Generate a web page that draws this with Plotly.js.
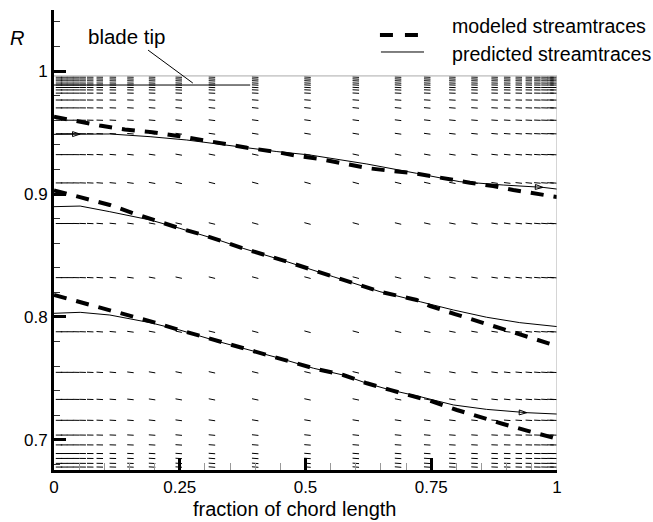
<!DOCTYPE html>
<html>
<head>
<meta charset="utf-8">
<script src="https://cdn.plot.ly/plotly-3.0.1.min.js"></script>
<style>html,body{margin:0;padding:0;background:#fff;}#chart{width:653px;height:522px;}</style>
</head>
<body>
<div id="chart"></div>
<script>
// ---- vector-field grid ----
const fieldX = [0.01, 0.02, 0.032, 0.044, 0.057, 0.072, 0.091, 0.117, 0.152, 0.195, 0.248, 0.314, 0.4, 0.504, 0.6, 0.684, 0.742, 0.792, 0.836, 0.876, 0.901, 0.924, 0.944, 0.961, 0.975, 0.987, 0.993];
const fieldR = [0.995, 0.9935, 0.992, 0.9902, 0.9886, 0.9866, 0.9846, 0.982, 0.9764, 0.970, 0.960, 0.949, 0.932, 0.909, 0.876, 0.832, 0.788, 0.755, 0.733, 0.716, 0.704, 0.696, 0.689, 0.685, 0.681, 0.678];
// flow slope dR/dx per column, and strength per row
const colSlope = [0, 0, -0.005, -0.01, -0.015, -0.02, -0.03, -0.04, -0.055, -0.075, -0.09, -0.1, -0.11, -0.11, -0.11, -0.1, -0.09, -0.08, -0.07, -0.06, -0.05, -0.045, -0.04, -0.035, -0.03, -0.03, -0.03];
const rowFactor = [0.2, 0.2, 0.2, 0.2, 0.2, 0.2, 0.2, 0.2, 0.3, 0.4, 0.5, 0.6, 0.8, 1, 1, 1, 1, 0.9, 0.8, 0.6, 0.4, 0.3, 0.3, 0.3, 0.3, 0.3];

// ---- modeled streamtraces ----
const modTopX = [0, 0.048, 0.091, 0.141, 0.195, 0.25, 0.304, 0.384, 0.443, 0.485, 0.529, 0.575, 0.622, 0.672, 0.714, 0.827, 0.873, 0.913, 0.98, 1.0];
const modTopR = [0.9628, 0.9588, 0.9557, 0.9525, 0.9503, 0.947, 0.943, 0.9376, 0.9341, 0.9309, 0.9285, 0.9252, 0.9211, 0.9187, 0.917, 0.9092, 0.9065, 0.9033, 0.8992, 0.8975];
const modMidX = [0, 0.058, 0.111, 0.158, 0.201, 0.25, 0.297, 0.376, 0.463, 0.555, 0.648, 0.721, 0.748, 0.797, 0.844, 0.89, 0.936, 0.983, 1.0];
const modMidR = [0.903, 0.8965, 0.8911, 0.8843, 0.8783, 0.8721, 0.8667, 0.8558, 0.845, 0.8328, 0.8206, 0.8138, 0.8089, 0.8024, 0.7962, 0.7902, 0.7848, 0.7786, 0.7765];
const modBotX = [0, 0.058, 0.111, 0.158, 0.201, 0.25, 0.297, 0.449, 0.516, 0.575, 0.622, 0.668, 0.714, 0.754, 0.801, 0.847, 0.893, 0.94, 0.989, 1.0];
const modBotR = [0.8179, 0.8116, 0.8057, 0.8003, 0.7954, 0.7894, 0.784, 0.7664, 0.7583, 0.7528, 0.7461, 0.7407, 0.7352, 0.7311, 0.7244, 0.7185, 0.713, 0.7076, 0.7022, 0.701];

// ---- predicted streamtraces ----
const predTopX = [0, 0.111, 0.191, 0.264, 0.33, 0.443, 0.509, 0.622, 0.721, 0.807, 0.893, 0.972, 1.0];
const predTopR = [0.9485, 0.9488, 0.9466, 0.9439, 0.9404, 0.9345, 0.9317, 0.9244, 0.9168, 0.910, 0.9073, 0.9054, 0.904];
const predMidX = [0, 0.052, 0.111, 0.191, 0.25, 0.327, 0.376, 0.463, 0.555, 0.648, 0.728, 0.794, 0.86, 0.926, 1.0];
const predMidR = [0.8897, 0.8902, 0.8856, 0.8789, 0.8721, 0.8626, 0.8558, 0.845, 0.8328, 0.8206, 0.8124, 0.8057, 0.7998, 0.7954, 0.7922];
const predBotX = [0, 0.052, 0.111, 0.191, 0.25, 0.327, 0.449, 0.516, 0.575, 0.622, 0.668, 0.728, 0.794, 0.86, 0.94, 1.0];
const predBotR = [0.803, 0.8038, 0.8016, 0.7954, 0.7894, 0.78, 0.7664, 0.7583, 0.7528, 0.7461, 0.7407, 0.7352, 0.7285, 0.7249, 0.7222, 0.7211];

// arrowheads on predicted streamtraces
const arrowX = [0.052, 0.972, 0.94];
const arrowR = [0.9487, 0.9054, 0.7222];
const arrowAngle = [90, 93, 92];

// ticks & labels
const xTickVals = [0, 0.25, 0.5, 0.75, 1];
const xTickText = ['0', '0.25', '0.5', '0.75', '1'];
const yTickVals = [0.7, 0.8, 0.9, 1];
const yTickText = ['0.7', '0.8', '0.9', '1'];
const legendNames = ['modeled streamtraces', 'predicted streamtraces'];
const xTitle = 'fraction of chord length';
const bladeTipR = 0.9886;
const frameTopR = 0.996;

// ---- layout geometry ----
const W = 653, H = 522;
const M = {l: 54, r: 96, t: 10, b: 52};
const xRange = [0, 1], yRange = [0.6756, 1.0496];
const kx = (W - M.l - M.r) / (xRange[1] - xRange[0]);
const ky = (H - M.t - M.b) / (yRange[1] - yRange[0]);
const vecLen = 6.5; // px

const vx = [], vy = [];
fieldR.forEach((r, j) => {
  fieldX.forEach((x, i) => {
    const s = colSlope[i] * rowFactor[j];
    const pdy = s * ky / kx;
    const n = Math.hypot(1, pdy);
    const dx = vecLen / n / kx;
    const dr = vecLen * pdy / n / ky;
    vx.push(x - dx / 2, x + dx / 2, null);
    vy.push(r - dr / 2, r + dr / 2, null);
  });
});

function join(list) {
  const out = [];
  list.forEach((a, k) => { if (k) out.push(null); a.forEach(v => out.push(v)); });
  return out;
}

const font = '"Liberation Sans", Arial, Helvetica, sans-serif';
const modDash = '13px,12px';

const traces = [
  {x: vx, y: vy, mode: 'lines', line: {color: '#000', width: 1}, showlegend: false, hoverinfo: 'skip'},
  {x: join([modTopX, modMidX, modBotX]), y: join([modTopR, modMidR, modBotR]), mode: 'lines',
   name: legendNames[0], showlegend: false, line: {color: '#000', width: 4, dash: '13px,10px'}},
  {x: join([predTopX, predMidX, predBotX]), y: join([predTopR, predMidR, predBotR]), mode: 'lines',
   name: legendNames[1], showlegend: false, line: {color: '#000', width: 1}},
  {x: arrowX, y: arrowR, mode: 'markers', showlegend: false, hoverinfo: 'skip',
   marker: {symbol: 'arrow-open', size: 8, angle: arrowAngle, color: '#000', line: {color: '#000', width: 1}}}
];

const layout = {
  width: W, height: H,
  margin: M,
  paper_bgcolor: '#fff', plot_bgcolor: '#fff',
  font: {family: font, color: '#000', size: 17},
  showlegend: false,
  xaxis: {
    range: xRange, tickvals: xTickVals, ticktext: xTickText,
    ticks: 'inside', ticklen: 12, tickwidth: 3, tickcolor: '#000',
    showline: true, linewidth: 3, linecolor: '#000', mirror: false,
    showgrid: false, zeroline: false,
    minor: {dtick: 0.05, tick0: 0, ticks: 'inside', ticklen: 7, tickwidth: 1, tickcolor: '#999', showgrid: false},
    tickfont: {size: 17}
  },
  yaxis: {
    range: yRange, tickvals: yTickVals, ticktext: yTickText,
    ticks: 'inside', ticklen: 12, tickwidth: 3, tickcolor: '#000',
    showline: true, linewidth: 3, linecolor: '#000', mirror: false,
    showgrid: false, zeroline: false,
    minor: {dtick: 0.02, tick0: 0, ticks: 'inside', ticklen: 6, tickwidth: 1, tickcolor: '#333', showgrid: false},
    tickfont: {size: 17}
  },
  shapes: [
    {type: 'line', xref: 'x', yref: 'y', x0: 0, x1: 1, y0: frameTopR, y1: frameTopR, line: {color: '#aaa', width: 1}},
    {type: 'line', xref: 'x', yref: 'y', x0: 1, x1: 1, y0: yRange[0], y1: frameTopR, line: {color: '#aaa', width: 1}},
    {type: 'line', xref: 'x', yref: 'y', x0: 0, x1: 0.39, y0: bladeTipR, y1: bladeTipR, line: {color: '#000', width: 1}},
    {type: 'line', xref: 'x', yref: 'y', x0: 0.187, x1: 0.276, y0: 1.017, y1: 0.9902, line: {color: '#000', width: 1}},
    // legend samples
    {type: 'line', xref: 'paper', yref: 'paper', x0: 0.648, x1: 0.728, y0: 0.9457, y1: 0.9457, line: {color: '#000', width: 4, dash: modDash}},
    {type: 'line', xref: 'paper', yref: 'paper', x0: 0.650, x1: 0.7356, y0: 0.9087, y1: 0.9087, line: {color: '#000', width: 1}}
  ],
  annotations: [
    {text: 'blade tip', xref: 'x', yref: 'y', x: 0.146, y: 1.0281, showarrow: false, font: {size: 20.5}},
    {text: '<i>R</i>', xref: 'paper', yref: 'y', x: -0.0736, y: 1.0268, showarrow: false, font: {size: 20}, xanchor: 'center'},
    {text: legendNames[0], xref: 'paper', yref: 'paper', x: 0.787, y: 0.9643, xanchor: 'left', yanchor: 'middle', showarrow: false, font: {size: 19.6}},
    {text: legendNames[1], xref: 'paper', yref: 'paper', x: 0.787, y: 0.9035, xanchor: 'left', yanchor: 'middle', showarrow: false, font: {size: 19.6}},
    {text: xTitle, xref: 'paper', yref: 'paper', x: 0.479, y: -0.0848, xanchor: 'center', yanchor: 'middle', showarrow: false, font: {size: 20}}
  ]
};

Plotly.newPlot('chart', traces, layout, {displayModeBar: false, staticPlot: true});
</script>
</body>
</html>
